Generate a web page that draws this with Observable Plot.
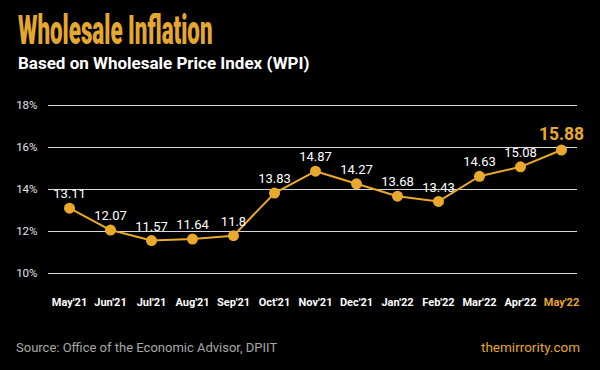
<!DOCTYPE html>
<html><head><meta charset="utf-8">
<script src="https://cdn.jsdelivr.net/npm/d3@7"></script>
<script src="https://cdn.jsdelivr.net/npm/@observablehq/plot@0.6"></script>
<style>
html,body{margin:0;padding:0;background:#000;width:600px;height:370px;overflow:hidden;font-family:Roboto,sans-serif;}
#wrap{position:relative;width:600px;height:370px;}
#title{position:absolute;left:18px;top:10px;font-family:Roboto;font-weight:900;font-size:41px;line-height:40px;height:40px;color:#E4A72F;transform:scaleX(0.545);transform-origin:left top;white-space:nowrap;}
#sub{position:absolute;left:18px;top:53px;font-weight:700;font-size:17px;line-height:20px;color:#fff;white-space:nowrap;}
#chart{position:absolute;left:0;top:85px;}
#src{position:absolute;left:16px;top:340px;font-size:13px;color:#a8a8a8;}
#site{position:absolute;right:20px;top:339px;font-size:13.5px;color:#E4A72F;}
</style></head>
<body><div id="wrap">
<div id="title">Wholesale Inflation</div>
<div id="sub">Based on Wholesale Price Index (WPI)</div>
<div id="chart"></div>
<div id="src">Source: Office of the Economic Advisor, DPIIT</div>
<div id="site">themirrority.com</div>
</div>
<script>
const months = ["May'21","Jun'21","Jul'21","Aug'21","Sep'21","Oct'21","Nov'21","Dec'21","Jan'22","Feb'22","Mar'22","Apr'22","May'22"];
const wpi = [13.11,12.07,11.57,11.64,11.8,13.83,14.87,14.27,13.68,13.43,14.63,15.08,15.88];
const yTicks = [10,12,14,16,18];
const gold = "#E9A92C";
const data = months.map((m,i)=>({m, v: wpi[i], last: i===months.length-1}));
const plot = Plot.plot({
  width: 600, height: 230,
  marginLeft: 48, marginRight: 23, marginTop: 20, marginBottom: 42,
  style: {background: "transparent", fontFamily: "Roboto, sans-serif"},
  x: {type: "point", domain: months, padding: 0, insetLeft: 19, insetRight: 15, label: null},
  y: {domain: [10,18], label: null},
  marks: [
    Plot.ruleY(yTicks, {stroke: "#d8d8d8", strokeWidth: 1}),
    Plot.axisY(yTicks, {tickSize: 0, tickPadding: 11, tickFormat: d => d + "%", fill: "#e6e6e6", fontSize: 11.5, label: null}),
    Plot.axisX(months, {tickSize: 0, tickPadding: 25, fontSize: 11, fontWeight: 700, fill: d => d === "May'22" ? gold : "#fff", label: null}),
    Plot.line(data, {x: "m", y: "v", stroke: gold, strokeWidth: 2}),
    Plot.dot(data, {x: "m", y: "v", r: 5.5, fill: gold, stroke: null}),
    Plot.text(data.filter(d => !d.last), {x: "m", y: "v", text: d => String(d.v), dy: -14, fill: "#fff", fontSize: 13}),
    Plot.text(data.filter(d => d.last), {x: "m", y: "v", text: d => String(d.v), dy: -16, fill: gold, fontSize: 17.5, fontWeight: 700})
  ]
});
document.getElementById("chart").appendChild(plot);
</script>
</body></html>
